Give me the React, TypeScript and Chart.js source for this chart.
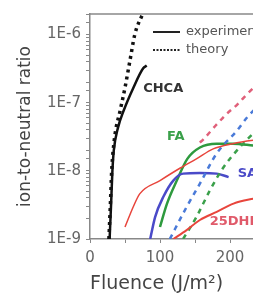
import React, { useEffect, useRef } from 'react';
import { Chart, registerables } from 'chart.js';

Chart.register(...registerables);

// ---- tick labels ----
const yTickValues = [1e-9, 1e-8, 1e-7, 1e-6];
const yTickLabels = ['1E-9', '1E-8', '1E-7', '1E-6'];
const xTickValues = [0, 100, 200];
const xTickLabels = ['0', '100', '200'];

// ---- series (x: fluence J/m^2, y: ion-to-neutral ratio) ----
const chcaExpX = [28, 30, 32, 34, 40, 48, 62, 76, 81];
const chcaExpY = [1e-9, 3e-9, 1e-8, 2e-8, 4.3e-8, 7.6e-8, 1.66e-7, 3.2e-7, 3.5e-7];
const chcaThX = [27, 29, 31, 35, 43, 50, 57, 64, 76];
const chcaThY = [1e-9, 3e-9, 1e-8, 3e-8, 7.6e-8, 1.66e-7, 4.1e-7, 1e-6, 2.1e-6];

const faExpX = [100, 110, 124, 139, 157, 181, 204, 233, 260];
const faExpY = [1.5e-9, 3.3e-9, 7.2e-9, 1.5e-8, 2.2e-8, 2.5e-8, 2.5e-8, 2.35e-8, 2.2e-8];
const faThX = [133, 152, 171, 190, 210, 233, 260];
const faThY = [1e-9, 2.1e-9, 5.1e-9, 1.1e-8, 2e-8, 3.5e-8, 6e-8];

const saExpX = [86, 93, 105, 119, 133, 157, 181, 198];
const saExpY = [1e-9, 2.1e-9, 4.2e-9, 7.2e-9, 9.1e-9, 9.3e-9, 9.1e-9, 8.1e-9];
const saThX = [114, 138, 157, 181, 210, 224, 260];
const saThY = [1e-9, 2.95e-9, 6.5e-9, 1.8e-8, 3.9e-8, 6e-8, 1.4e-7];

const dhbExpX = [50, 62, 71, 100, 129, 152, 176, 204, 233, 260];
const dhbExpY = [1.5e-9, 3e-9, 4.6e-9, 7.2e-9, 1.1e-8, 1.5e-8, 2.1e-8, 2.5e-8, 2.8e-8, 3e-8];
const dhbExp2X = [119, 138, 157, 181, 205, 233, 260];
const dhbExp2Y = [1e-9, 1.35e-9, 1.9e-9, 2.5e-9, 3.3e-9, 3.9e-9, 4.4e-9];
const dhbThX = [157, 162, 181, 195, 210, 224, 260];
const dhbThY = [2.6e-8, 2.9e-8, 4.8e-8, 6.8e-8, 9.3e-8, 1.32e-7, 3e-7];

// ---- in-plot labels ----
const labelTexts = ['CHCA', 'FA', 'SA', '25DHB'];
const labelX = [76, 110, 211, 171];
const labelY = [1.6e-7, 3.2e-8, 9.1e-9, 1.77e-9];
const labelColors = ['#333333', '#3aa04a', '#4a4ac8', '#e05a6a'];

const legendTexts = ['experiment', 'theory'];

const FONT = 'DejaVu Sans';

function pts(xs: number[], ys: number[]) {
  return xs.map((x, i) => ({ x, y: ys[i] }));
}

function ds(xs: number[], ys: number[], color: string, width: number, dash: number[] = []) {
  return {
    data: pts(xs, ys),
    borderColor: color,
    backgroundColor: color,
    borderWidth: width,
    borderDash: dash,
    pointRadius: 0,
    fill: false,
    cubicInterpolationMode: 'monotone' as const,
  };
}

const overlayPlugin = {
  id: 'overlay',
  afterDatasetsDraw(chart: any) {
    const { ctx, chartArea, scales } = chart;
    ctx.save();
    // top frame line
    ctx.strokeStyle = '#888';
    ctx.lineWidth = 1.5;
    ctx.beginPath();
    ctx.moveTo(chartArea.left, chartArea.top);
    ctx.lineTo(chartArea.right, chartArea.top);
    ctx.stroke();

    // in-plot labels
    ctx.font = `bold 13px "${FONT}"`;
    ctx.textAlign = 'left';
    ctx.textBaseline = 'middle';
    labelTexts.forEach((t, i) => {
      ctx.fillStyle = labelColors[i];
      ctx.fillText(t, scales.x.getPixelForValue(labelX[i]), scales.y.getPixelForValue(labelY[i]));
    });

    // legend
    const lx0 = chartArea.left + 63;
    const lx1 = chartArea.left + 90;
    const ly = [chartArea.top + 18, chartArea.top + 36];
    ctx.strokeStyle = '#222';
    ctx.lineWidth = 2;
    ctx.setLineDash([]);
    ctx.beginPath();
    ctx.moveTo(lx0, ly[0]);
    ctx.lineTo(lx1, ly[0]);
    ctx.stroke();
    ctx.lineWidth = 2;
    ctx.setLineDash([2, 1.5]);
    ctx.beginPath();
    ctx.moveTo(lx0, ly[1]);
    ctx.lineTo(lx1, ly[1]);
    ctx.stroke();
    ctx.setLineDash([]);
    ctx.font = `13px "${FONT}"`;
    ctx.fillStyle = '#555';
    legendTexts.forEach((t, i) => ctx.fillText(t, lx1 + 6, ly[i]));
    ctx.restore();
  },
};

export default function App() {
  const ref = useRef<HTMLCanvasElement>(null);
  useEffect(() => {
    if (!ref.current) return;
    Chart.defaults.font.family = FONT;
    const chart = new Chart(ref.current, {
      type: 'line',
      data: {
        datasets: [
          ds(dhbExpX, dhbExpY, '#e8453c', 1.5),
          ds(dhbExp2X, dhbExp2Y, '#e8453c', 2),
          ds(dhbThX, dhbThY, '#e0607a', 2.5, [5, 5]),
          ds(saThX, saThY, '#4a7ad8', 2.5, [5, 5]),
          ds(faThX, faThY, '#3aa04a', 2.5, [5, 5]),
          ds(saExpX, saExpY, '#4a4ac8', 2.5),
          ds(faExpX, faExpY, '#2e9a3e', 2.5),
          ds(chcaThX, chcaThY, '#111', 3.5, [3, 4]),
          ds(chcaExpX, chcaExpY, '#111', 2.5),
        ],
      },
      options: {
        responsive: false,
        animation: false,
        layout: { padding: { left: 0, top: 13, right: 10, bottom: 0 } },
        plugins: { legend: { display: false }, tooltip: { enabled: false } },
        scales: {
          x: {
            type: 'linear',
            min: 0,
            max: 300,
            afterFit: (s: any) => { s.height = 55; },
            grid: { drawOnChartArea: false, tickLength: 4, color: '#888' },
            border: { color: '#888', width: 1.5 },
            ticks: {
              stepSize: 50,
              autoSkip: false,
              maxRotation: 0,
              padding: 6,
              color: '#666',
              font: { size: 15, family: FONT },
              callback: (v: any) => {
                const i = xTickValues.indexOf(Number(v));
                return i >= 0 ? xTickLabels[i] : '';
              },
            },
            title: {
              display: true,
              text: 'Fluence (J/m²)',
              align: 'start',
              color: '#444',
              font: { size: 19, family: FONT, lineHeight: 1 },
              padding: { top: 0, bottom: 0 },
            },
          },
          y: {
            type: 'logarithmic',
            min: 1e-9,
            max: 2e-6,
            afterFit: (s: any) => { s.width = 90; },
            grid: { drawOnChartArea: false, tickLength: 4, color: '#888' },
            border: { color: '#888', width: 1.5 },
            ticks: {
              autoSkip: false,
              padding: 5,
              color: '#666',
              font: { size: 15, family: FONT },
              callback: (v: any) => {
                const n = Number(v);
                const i = yTickValues.findIndex((t) => Math.abs(n / t - 1) < 1e-6);
                return i >= 0 ? yTickLabels[i] : '';
              },
            },
            title: {
              display: true,
              text: 'ion-to-neutral ratio',
              color: '#444',
              font: { size: 17, family: FONT },
              padding: { top: 15, bottom: 0 },
            },
          },
        },
      },
      plugins: [overlayPlugin],
    } as any);
    return () => chart.destroy();
  }, []);
  return (
    <div style={{ position: 'fixed', left: 0, top: 0, width: 253, height: 294, overflow: 'hidden', background: '#fff' }}>
      <canvas ref={ref} width={310} height={294} style={{ display: 'block', width: 310, height: 294 }} />
    </div>
  );
}
